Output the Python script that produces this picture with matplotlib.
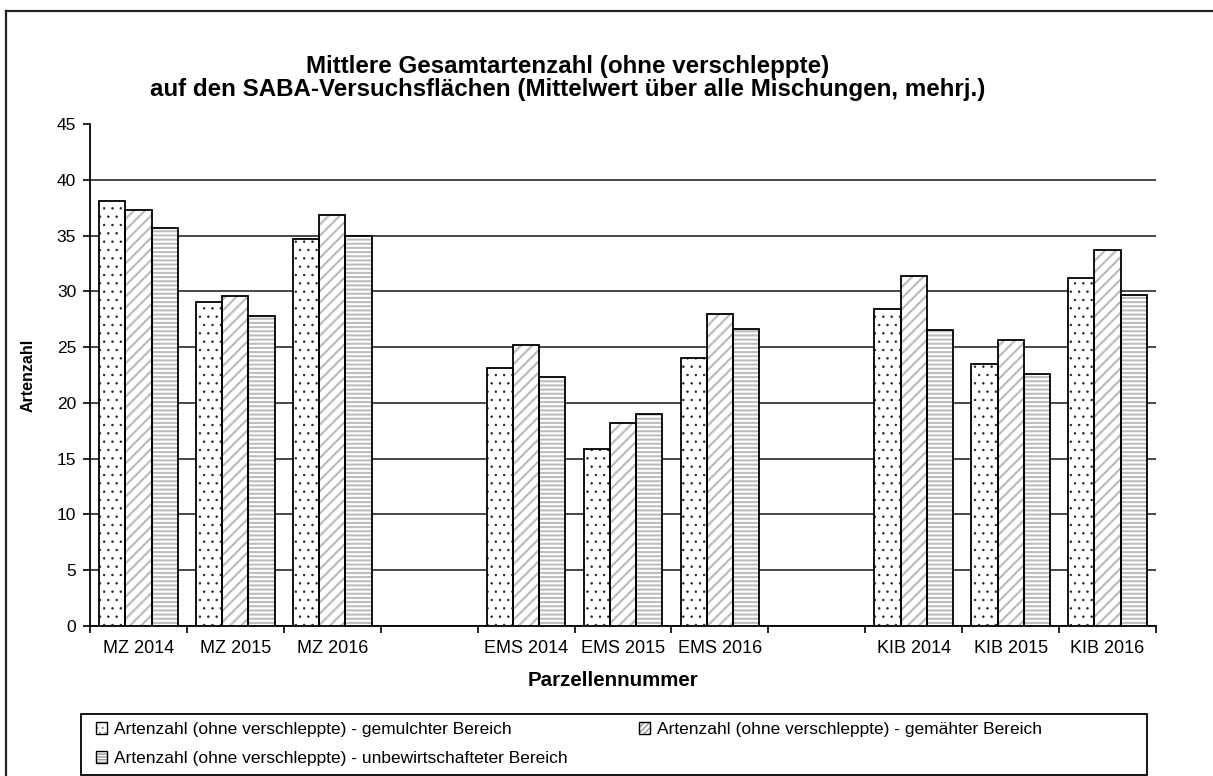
import numpy as np
import matplotlib
matplotlib.use("Agg")
import matplotlib.pyplot as plt
from matplotlib.patches import Patch, Rectangle
from matplotlib.lines import Line2D

plt.rcParams['font.family'] = ['Liberation Sans', 'DejaVu Sans']

# Parzellen (leere Einträge = Lücken zwischen den Standorten)
categories = ['MZ 2014', 'MZ 2015', 'MZ 2016', '', 'EMS 2014', 'EMS 2015', 'EMS 2016',
              '', 'KIB 2014', 'KIB 2015', 'KIB 2016']
nan = np.nan
gemulcht = [38.1, 29.0, 34.7, nan, 23.1, 15.9, 24.0, nan, 28.4, 23.5, 31.2]
gemaeht = [37.3, 29.6, 36.8, nan, 25.2, 18.2, 28.0, nan, 31.4, 25.6, 33.7]
unbewirtschaftet = [35.7, 27.8, 35.0, nan, 22.3, 19.0, 26.6, nan, 26.5, 22.6, 29.7]

labels = ['Artenzahl (ohne verschleppte) - gemulchter Bereich',
          'Artenzahl (ohne verschleppte) - gemähter Bereich',
          'Artenzahl (ohne verschleppte) - unbewirtschafteter Bereich']
yticks = np.arange(0, 46, 5)

W, H = 1213, 776
fig = plt.figure(figsize=(W / 100, H / 100), dpi=100)
ax = fig.add_axes([90 / W, 1 - 626 / H, (1156 - 90) / W, (626 - 124) / H])

x = np.arange(len(categories))
bw = 0.27
series = [gemulcht, gemaeht, unbewirtschaftet]
hatches = ['..', '///', '----']
leg_hatches = ['...', '//////', '------']
hcolors = ['#202020', '#bdbdbd', '#bdbdbd']
hlw = [0.5, 1.6, 1.5]
handles = []
for i, (vals, h, hc, lw) in enumerate(zip(series, hatches, hcolors, hlw)):
    pos = x + (i - 1) * bw
    with plt.rc_context({'hatch.linewidth': lw}):
        ax.bar(pos, vals, bw, color='white', edgecolor=hc, hatch=h, linewidth=0, zorder=3)
    with plt.rc_context({'hatch.linewidth': 1.0}):
        hp = Patch(facecolor='white', edgecolor='#9a9a9a', hatch=leg_hatches[i], linewidth=0)
    ax.bar(pos, vals, bw, fill=False, edgecolor='black', linewidth=1.3, zorder=4)
    op = Patch(fill=False, edgecolor='black', linewidth=1.0)
    handles.append((hp, op))

ax.set_xlim(-0.5, len(categories) - 0.5)
ax.set_ylim(0, 45)
ax.set_yticks(yticks)
ax.set_yticklabels([str(v) for v in yticks], fontsize=12.5)
ax.yaxis.grid(True, color='#3a3a3a', linewidth=1.3, zorder=0)
ax.set_axisbelow(True)
ax.get_ygridlines()[-1].set_visible(False)

ax.set_xticks(np.arange(len(categories) + 1) - 0.5)
ax.set_xticklabels([])
ax.set_xticks(x, minor=True)
ax.set_xticklabels(categories, minor=True, fontsize=13)
ax.tick_params(axis='x', which='minor', length=0, pad=10)
ax.tick_params(axis='x', which='major', length=5, width=1.2, direction='out')
ax.tick_params(axis='y', length=5, width=1.2, direction='out', pad=5)

for s in ['top', 'right']:
    ax.spines[s].set_visible(False)
for s in ['left', 'bottom']:
    ax.spines[s].set_linewidth(1.3)

ax.set_ylabel('Artenzahl', fontsize=11.5, fontweight='bold')
ax.yaxis.set_label_coords((36 - 90) / (1156 - 90), 0.5)
fig.text(613 / W, 1 - 681 / H, 'Parzellennummer', fontsize=14.8, fontweight='bold',
         ha='center', va='center')
fig.text(568 / W, 1 - 78 / H,
         'Mittlere Gesamtartenzahl (ohne verschleppte)\n'
         'auf den SABA-Versuchsflächen (Mittelwert über alle Mischungen, mehrj.)',
         fontsize=17.4, fontweight='bold', ha='center', va='center', linespacing=1.0)

# Legende: Rahmen separat, Einträge zeilenweise
fig.add_artist(Rectangle((81 / W, 1 - 775 / H), (1147 - 81) / W, (775 - 714) / H,
                         transform=fig.transFigure, fill=False, edgecolor='black',
                         linewidth=1.3))
order = [0, 2, 1]
leg = fig.legend([handles[k] for k in order], [labels[k] for k in order], ncol=2,
                 loc='upper left', bbox_to_anchor=(96 / W, 1 - 722 / H),
                 fontsize=12.5, frameon=False, handlelength=0.65, handleheight=0.65,
                 handletextpad=0.4, borderpad=0.0, labelspacing=0.8,
                 columnspacing=4.1, borderaxespad=0)

# Rahmen um das Diagramm (rechts und unten abgeschnitten)
fig.add_artist(Line2D([6 / W, 1], [1 - 11 / H, 1 - 11 / H], color='#222222', linewidth=1.6,
                      transform=fig.transFigure))
fig.add_artist(Line2D([6 / W, 6 / W], [0, 1 - 11 / H], color='#222222', linewidth=1.6,
                      transform=fig.transFigure))

fig.savefig('out.png', dpi=100)
